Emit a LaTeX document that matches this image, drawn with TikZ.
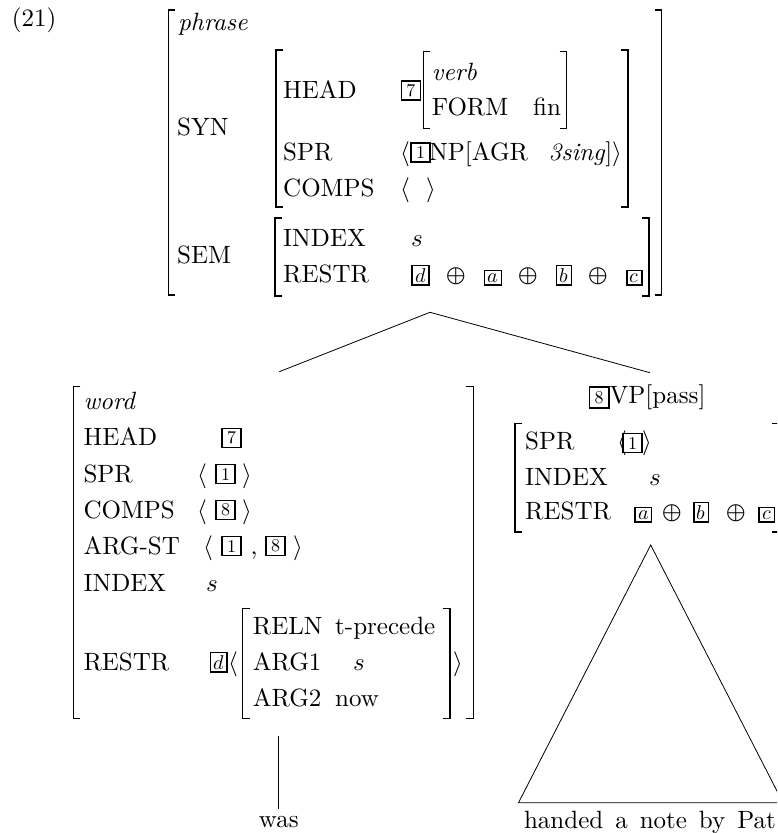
\documentclass[tikz,border=0pt]{standalone}
\usepackage{unicode-math}
\setmainfont{lmroman10}[Extension=.otf, UprightFont=*-regular, ItalicFont=*-italic, BoldFont=*-bold, BoldItalicFont=*-bolditalic]
\setmathfont{Latin Modern Math}
\newcommand\LBr[3]{\draw[brk] (#1+7,-#2) -- (#1,-#2) -- (#1,-#3) -- (#1+7,-#3);}
\newcommand\RBr[3]{\draw[brk] (#1-7,-#2) -- (#1,-#2) -- (#1,-#3) -- (#1-7,-#3);}
\newcommand\wsp{\hspace{12pt}}
\tikzset{
 txt/.style={inner sep=0pt, anchor=base west, font=\fontsize{25}{30}\selectfont},
 txtc/.style={txt, anchor=base},
 tagn/.style={draw, line width=1.5pt, inner sep=0pt, minimum width=19pt, minimum height=19pt, font=\fontsize{18}{18}\selectfont},
 tagl/.style={draw, line width=1.5pt, inner xsep=3pt, inner ysep=2.8pt, anchor=base, font=\fontsize{20}{20}\selectfont},
 brk/.style={line width=1.2pt},
 treeline/.style={line width=0.8pt}
}
\begin{document}
\begin{tikzpicture}[x=1pt,y=1pt]
\useasboundingbox (0,0) rectangle (777,-833);
\fill[white] (0,0) rectangle (777,-833);
\begin{scope}
\clip (0,0) rectangle (777,-833);
% example number
\node[txt] (ex) at (11.7,-26.7) {(21)};
% ---------- top AVM ----------
\LBr{168.3}{10}{295} \RBr{661.7}{10}{295}
\node[txt] (phr) at (178,-30) {\textit{phrase}};
\node[txt] (syn) at (177,-135) {SYN};
\LBr{276}{50}{207} \RBr{628}{50}{207}
\node[txt] (headA) at (283,-98) {HEAD};
\node[tagn] (tagSevA) at (410.8,-90.5) {7};
\LBr{423.3}{51.7}{128.3} \RBr{566.7}{51.7}{128.3}
\node[txt] (verb) at (431.7,-80) {\textit{verb}};
\node[txt] (form) at (431.7,-115) {FORM};
\node[txt] (fin) at (533,-115) {fin};
\node[txt] (sprA) at (283,-160) {SPR};
\node[txt] (laA) at (400.2,-160) {$\langle$};
\node[tagn] (tagOneA) at (420.5,-152.5) {1};
\node[txt] (np) at (429,-160) {NP[AGR};
\node[txt] (sing) at (548.3,-160) {\textit{3sing}]$\rangle$};
\node[txt] (compsA) at (283,-196) {COMPS};
\node[txt] (laB) at (400.2,-196) {$\langle$};
\node[txt] (raB) at (426.5,-196) {$\rangle$};
\node[txt] (sem) at (177,-263) {SEM};
\LBr{275}{218}{296} \RBr{649}{218}{296}
\node[txt] (indexA) at (283,-246) {INDEX};
\node[txt] (sA) at (411.2,-246) {$s$};
\node[txt] (restrA) at (283,-282) {RESTR};
\node[tagl] (tdA) at (420.5,-282) {$d$};
\node[txtc] (opA) at (456,-282) {$\oplus$};
\node[tagl] (taA) at (493,-282) {$a$};
\node[txtc] (opB) at (528,-282) {$\oplus$};
\node[tagl] (tbA) at (564,-282) {$b$};
\node[txtc] (opC) at (598,-282) {$\oplus$};
\node[tagl] (tcA) at (634.4,-282) {$c$};
% ---------- branches ----------
\coordinate (topc) at (430,-312.3);
\coordinate (wordtop) at (279.3,-371.7);
\coordinate (vptop) at (650,-372.7);
\draw[treeline] (wordtop) -- (topc) -- (vptop);
% ---------- left AVM ----------
\LBr{73.3}{386.7}{718.3} \RBr{473.3}{386.7}{718.3}
\node[txt] (word) at (83.3,-409) {\textit{word}};
\node[txt] (headB) at (83.3,-445) {HEAD};
\node[tagn] (tagSevB) at (231.7,-437.8) {7};
\node[txt] (sprB) at (83.3,-482) {SPR};
\node[txt] (laC) at (197,-482) {$\langle$};
\node[tagn] (tagOneB) at (225.5,-474) {1};
\node[txt] (raC) at (242,-482) {$\rangle$};
\node[txt] (compsB) at (83.3,-518) {COMPS};
\node[txt] (laD) at (197,-518) {$\langle$};
\node[tagn] (tagEightB) at (225.5,-510) {8};
\node[txt] (raD) at (242,-518) {$\rangle$};
\node[txt] (argst) at (83.3,-554) {ARG-ST};
\node[txt] (laE) at (203.5,-554) {$\langle$};
\node[tagn] (tagOneC) at (231.7,-546) {1};
\node[txt] (comma) at (250.5,-554) {,};
\node[tagn] (tagEightC) at (275.7,-546) {8};
\node[txt] (raE) at (293.5,-554) {$\rangle$};
\node[txt] (indexB) at (83.3,-591) {INDEX};
\node[txt] (sB) at (206,-591) {$s$};
\node[txt] (restrB) at (83.3,-670) {RESTR};
\node[tagl] (tdB) at (218.7,-669) {$d$};
\node[txt] (laF) at (228.5,-670) {$\langle$};
\LBr{242.7}{608.3}{718.3} \RBr{450}{608.3}{718.3}
\node[txt] (raF) at (453.5,-670) {$\rangle$};
\node[txt] (reln) at (252.7,-634) {RELN};
\node[txt] (tprec) at (335,-634) {t-precede};
\node[txt] (argA) at (252.7,-670) {ARG1};
\node[txt] (sC) at (353,-670) {$s$};
\node[txt] (argB) at (252.7,-706) {ARG2};
\node[txt] (now) at (335,-706) {now};
% was
\coordinate (wasTop) at (278.3,-736);
\coordinate (wasBot) at (278.3,-809.3);
\draw[treeline] (wasTop) -- (wasBot);
\node[txtc] (was) at (278.8,-827.3) {was};
% ---------- right AVM ----------
\node[tagn, minimum width=19.5pt, minimum height=21pt] (tagEightD) at (599.2,-397.5) {8};
\node[txt] (vp) at (609.5,-403.5) {VP[pass]};
\LBr{515}{423.3}{532} \RBr{779}{423.3}{532}
\node[txt] (sprC) at (525,-449) {SPR};
\node[txt] (laG) at (617,-449) {$\langle$};
\node[tagn] (tagOneD) at (632.5,-443) {1};
\node[txt] (raG) at (642,-449) {$\rangle$};
\node[txt] (indexC) at (525,-485) {INDEX};
\node[txt] (sD) at (649,-485) {$s$};
\node[txt] (restrC) at (525,-519) {RESTR};
\node[tagl] (taB) at (643.3,-519) {$a$};
\node[txtc] (opD) at (672.7,-519) {$\oplus$};
\node[tagl] (tbB) at (701.3,-519) {$b$};
\node[txtc] (opE) at (736.7,-519) {$\oplus$};
\node[tagl] (tcB) at (766.7,-519) {$c$};
% triangle
\coordinate (triA) at (650.7,-545);
\coordinate (triL) at (518.5,-802.7);
\coordinate (triR) at (783,-802.7);
\draw[treeline] (triA) -- (triL) -- (triR) -- cycle;
\node[txtc] (hand) at (650,-828) {handed\wsp a\wsp note\wsp by\wsp Pat};
\end{scope}
\end{tikzpicture}
\end{document}
